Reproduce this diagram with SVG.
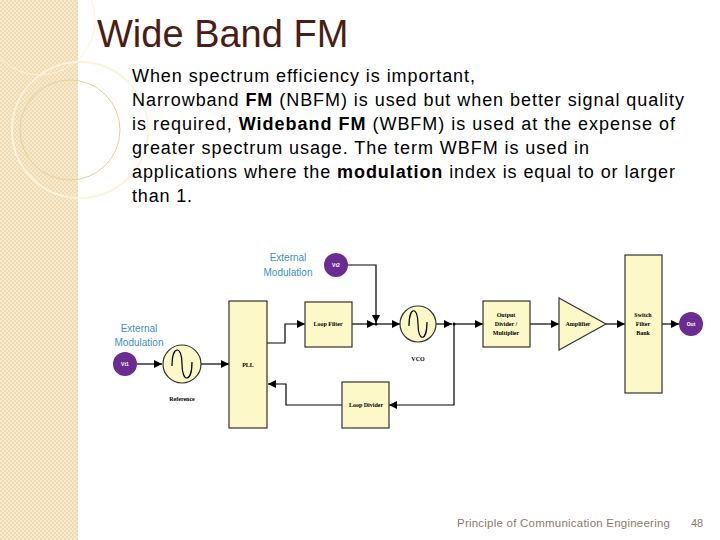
<svg xmlns="http://www.w3.org/2000/svg" width="720" height="540" viewBox="0 0 720 540">
<defs>
<pattern id="pt" width="4" height="4" patternUnits="userSpaceOnUse"><rect width="4" height="4" fill="#efdcb4"/><rect width="2" height="2" fill="#f6e9cc"/><rect x="2" y="2" width="2" height="2" fill="#f6e9cc"/></pattern>
<marker id="a" viewBox="0 0 10 10" refX="10" refY="5" markerWidth="7" markerHeight="7" orient="auto"><path d="M0,0L10,5L0,10z" fill="#000"/></marker>
<marker id="g" viewBox="0 0 10 10" refX="10" refY="5" markerWidth="7" markerHeight="7" orient="auto"><path d="M0,0L10,5L0,10z" fill="#000"/></marker>
</defs>
<style>
.b{fill:#fdf8c8;stroke:#333;stroke-width:1.2}
.t{font-family:"Liberation Serif",serif;font-size:6px;font-weight:bold;text-anchor:middle}
.p{fill:#6a2c91}
.w{font-family:"Liberation Sans",sans-serif;font-size:5px;fill:#fff;text-anchor:middle;font-weight:bold}
.e{font-family:"Liberation Sans",sans-serif;font-size:10px;fill:#3a8fc8;text-anchor:middle}
.l{fill:none;stroke:#000;stroke-width:1.2}
.body{font-family:"Liberation Sans",sans-serif;font-size:18px;fill:#000}
</style>
<rect width="720" height="540" fill="#fff"/>
<rect width="78" height="540" fill="url(#pt)"/>
<g fill="none" stroke="#fbf3dc" stroke-width="2"><circle cx="80" cy="130" r="68"/><circle cx="70" cy="130" r="50" stroke-width="1" stroke="#e6cfa2"/><circle cx="40" cy="20" r="55" stroke="#fff3d6" stroke-width="1"/></g>
<text x="97" y="47" font-family="Liberation Sans,sans-serif" font-size="38" fill="#4a1e14">Wide Band FM</text>
<g class="body">
<text x="132" y="82" textLength="343" lengthAdjust="spacing">When spectrum efficiency is important,</text>
<text x="132" y="106" textLength="552" lengthAdjust="spacing">Narrowband <tspan font-weight="bold">FM</tspan> (NBFM) is used but when better signal quality</text>
<text x="132" y="130" textLength="543" lengthAdjust="spacing">is required, <tspan font-weight="bold">Wideband FM</tspan> (WBFM) is used at the expense of</text>
<text x="132" y="154" textLength="457" lengthAdjust="spacing">greater spectrum usage. The term WBFM is used in</text>
<text x="132" y="178" textLength="543" lengthAdjust="spacing">applications where the <tspan font-weight="bold">modulation</tspan> index is equal to or larger</text>
<text x="132" y="202" textLength="60" lengthAdjust="spacing">than 1.</text>
</g>
<g id="connectors">
<path class="l" d="M136,364H162" stroke="#888" marker-end="url(#g)"/>
<path class="l" d="M201,364H229" stroke="#888" marker-end="url(#g)"/>
<path class="l" d="M267,343H285V324H305" marker-end="url(#a)"/>
<path class="l" d="M352,324H375"  marker-end="url(#a)"/>
<path class="l" d="M347,265H376V323" marker-end="url(#a)"/>
<path class="l" d="M376,324H400" marker-end="url(#a)"/>
<path class="l" d="M436,324H452" marker-end="url(#a)"/>
<path class="l" d="M454,324H483" marker-end="url(#a)"/>
<path class="l" d="M454,324V405H389" marker-end="url(#a)"/>
<path class="l" d="M342,405H286V384H268" marker-end="url(#a)"/>
<path class="l" d="M530,324H559" marker-end="url(#a)"/>
<path class="l" d="M606,324H625" marker-end="url(#a)"/>
<path class="l" d="M662,324H679" marker-end="url(#a)"/>
<circle cx="376" cy="324" r="1.5"/><circle cx="454" cy="324" r="1.5"/>
</g>
<g id="vt1"><circle class="p" cx="125" cy="364" r="12"/><text class="w" x="125" y="366">Vt1</text></g>
<text class="e" x="139" y="332">External</text><text class="e" x="139" y="346">Modulation</text>
<g id="ref"><circle class="b" cx="182" cy="364" r="19"/><path class="l" d="M172,366C172,345 182,345 182,364S192,383 192,362"/><text class="t" x="182" y="401" font-size="5">Reference</text></g>
<g id="pll"><rect class="b" x="229" y="301" width="38" height="127"/><text class="t" x="248" y="367">PLL</text></g>
<g id="lf"><rect class="b" x="305" y="302" width="47" height="45"/><text class="t" x="328" y="326">Loop Filter</text></g>
<g id="vt2"><circle class="p" cx="336" cy="265" r="12"/><text class="w" x="336" y="267">Vt2</text></g>
<text class="e" x="288" y="261">External</text><text class="e" x="288" y="276">Modulation</text>
<g id="vco"><circle class="b" cx="418" cy="324" r="18"/><path class="l" d="M409,326C409,306 418,306 418,324S427,342 427,322"/><text class="t" x="418" y="361" font-size="5">VCO</text></g>
<g id="od"><rect class="b" x="483" y="301" width="47" height="46"/><text class="t" x="506" y="317">Output</text><text class="t" x="506" y="326">Divider /</text><text class="t" x="506" y="335">Multiplier</text></g>
<g id="amp"><path class="b" d="M559,298L606,324L559,350z"/><text class="t" x="578" y="326">Amplifier</text></g>
<g id="sfb"><rect class="b" x="625" y="255" width="37" height="138"/><text class="t" x="643" y="317">Switch</text><text class="t" x="643" y="326">Filter</text><text class="t" x="643" y="335">Bank</text></g>
<g id="out"><circle class="p" cx="691" cy="324" r="12"/><text class="w" x="691" y="326">Out</text></g>
<g id="ld"><rect class="b" x="342" y="382" width="47" height="46"/><text class="t" x="366" y="407">Loop Divider</text></g>
<text x="457" y="527" font-family="Liberation Sans,sans-serif" font-size="11.5" fill="#8a7a6a" textLength="213" lengthAdjust="spacing">Principle of Communication Engineering</text>
<text x="697" y="527" font-family="Liberation Sans,sans-serif" font-size="11" fill="#8a7a6a" text-anchor="middle">48</text>
</svg>
